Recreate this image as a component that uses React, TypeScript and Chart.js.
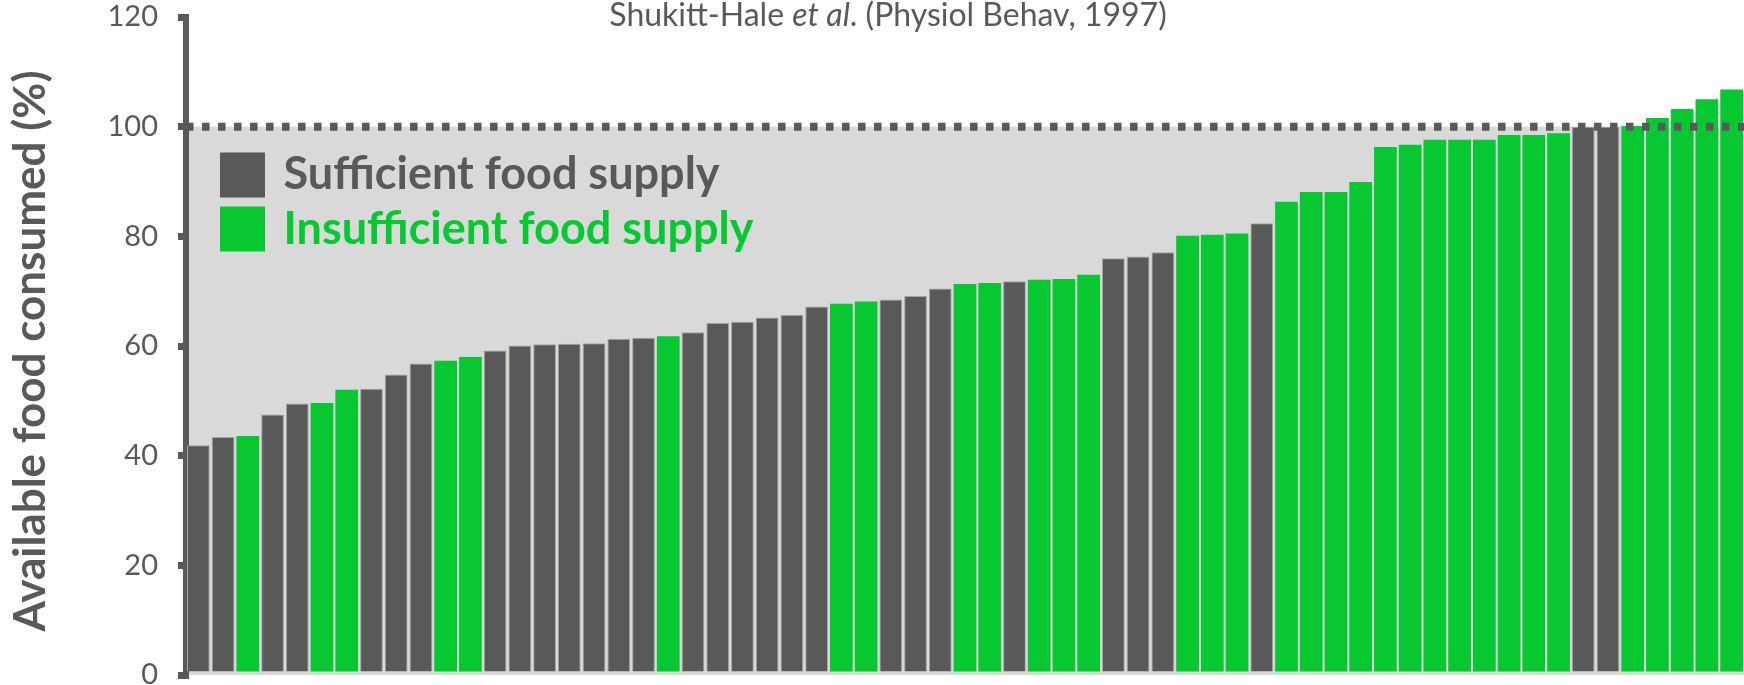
import { useEffect, useRef } from 'react';
import { Chart, registerables } from 'chart.js';

Chart.register(...registerables);

const FONT = 'Lato';
const GREY = '#595959';
const GREEN = '#08c832';
const BAND = '#d9d9d9';

const categories = [
  '1', '2', '3', '4', '5', '6', '7', '8', '9', '10',
  '11', '12', '13', '14', '15', '16', '17', '18', '19', '20',
  '21', '22', '23', '24', '25', '26', '27', '28', '29', '30',
  '31', '32', '33', '34', '35', '36', '37', '38', '39', '40',
  '41', '42', '43', '44', '45', '46', '47', '48', '49', '50',
  '51', '52', '53', '54', '55', '56', '57', '58', '59', '60',
  '61', '62', '63',
];

const values = [
  41.9, 43.4, 43.6, 47.5, 49.5, 49.6, 52.0, 52.2, 54.8, 56.8,
  57.3, 58.0, 59.2, 60.1, 60.3, 60.4, 60.5, 61.3, 61.5, 61.8,
  62.5, 64.2, 64.4, 65.2, 65.7, 67.2, 67.7, 68.1, 68.5, 69.1,
  70.5, 71.3, 71.5, 71.8, 72.1, 72.2, 73.0, 76.0, 76.3, 77.1,
  80.1, 80.3, 80.5, 82.4, 86.3, 88.1, 88.1, 89.9, 96.3, 96.7,
  97.6, 97.6, 97.6, 98.5, 98.5, 98.8, 100.0, 100.0, 100.1, 101.6,
  103.2, 105.0, 106.8,
];

// S = sufficient food supply, I = insufficient food supply
const groups = [
  'S', 'S', 'I', 'S', 'S', 'I', 'I', 'S', 'S', 'S',
  'I', 'I', 'S', 'S', 'S', 'S', 'S', 'S', 'S', 'I',
  'S', 'S', 'S', 'S', 'S', 'S', 'I', 'I', 'S', 'S',
  'S', 'I', 'I', 'S', 'I', 'I', 'I', 'S', 'S', 'S',
  'I', 'I', 'I', 'S', 'I', 'I', 'I', 'I', 'I', 'I',
  'I', 'I', 'I', 'I', 'I', 'I', 'S', 'S', 'I', 'I',
  'I', 'I', 'I',
];

const seriesLabels = ['Sufficient food supply', 'Insufficient food supply'];
const yTicks = [0, 20, 40, 60, 80, 100, 120];
const referenceValue = 100;
const titleParts = [
  { text: 'Shukitt-Hale ', italic: false },
  { text: 'et al', italic: true },
  { text: '. (Physiol Behav, 1997)', italic: false },
];
const yTitle = 'Available food consumed (%)';

const sufficient = values.map((v, i) => (groups[i] === 'S' ? v : null));
const insufficient = values.map((v, i) => (groups[i] === 'I' ? v : null));

const decorPlugin = {
  id: 'decor',
  beforeDraw(chart: any) {
    const { ctx, chartArea, scales } = chart;
    const y = scales.y;
    const top = y.getPixelForValue(referenceValue);
    const bottom = y.getPixelForValue(0);
    ctx.save();
    ctx.fillStyle = BAND;
    ctx.fillRect(chartArea.left, top, chartArea.right - chartArea.left, bottom - top);
    ctx.restore();
  },
  afterDatasetsDraw(chart: any) {
    const { ctx, chartArea, scales } = chart;
    const yy = scales.y.getPixelForValue(referenceValue);
    ctx.save();
    ctx.strokeStyle = GREY;
    ctx.lineWidth = 8;
    ctx.setLineDash([7.5, 8.5]);
    ctx.beginPath();
    ctx.moveTo(chartArea.left, yy);
    ctx.lineTo(chartArea.right, yy);
    ctx.stroke();
    ctx.restore();
  },
  afterDraw(chart: any) {
    const { ctx } = chart;
    ctx.save();
    // Title
    ctx.fillStyle = GREY;
    ctx.textBaseline = 'alphabetic';
    ctx.textAlign = 'left';
    const fontFor = (it: boolean) => `${it ? 'italic ' : ''}400 32px ${FONT}`;
    let total = 0;
    for (const p of titleParts) {
      ctx.font = fontFor(p.italic);
      total += ctx.measureText(p.text).width;
    }
    let x = 888 - total / 2;
    for (const p of titleParts) {
      ctx.font = fontFor(p.italic);
      ctx.fillText(p.text, x, 26);
      x += ctx.measureText(p.text).width;
    }
    // Legend
    const ds = chart.data.datasets;
    const rows = [
      { sq: 152.5, base: 188.5 },
      { sq: 206.5, base: 243.5 },
    ];
    ctx.font = `700 45px ${FONT}`;
    ds.forEach((d: any, i: number) => {
      ctx.fillStyle = d.backgroundColor;
      ctx.fillRect(220, rows[i].sq, 45, 45);
      ctx.fillText(d.label, 283.5, rows[i].base);
    });
    // Y axis title
    ctx.translate(45, 351);
    ctx.rotate(-Math.PI / 2);
    ctx.textAlign = 'center';
    ctx.fillStyle = GREY;
    ctx.font = `700 44px ${FONT}`;
    ctx.fillText(yTitle, 0, 0);
    ctx.restore();
  },
};

export default function App() {
  const ref = useRef<HTMLCanvasElement>(null);
  useEffect(() => {
    if (!ref.current) return;
    const chart = new Chart(ref.current, {
      type: 'bar',
      data: {
        labels: categories,
        datasets: [
          {
            label: seriesLabels[0],
            data: sufficient,
            backgroundColor: GREY,
            borderColor: '#a3a3a3',
            borderWidth: 1,
            barPercentage: 0.92,
            categoryPercentage: 1,
          },
          {
            label: seriesLabels[1],
            data: insufficient,
            backgroundColor: GREEN,
            borderColor: GREEN,
            borderWidth: 0,
            barPercentage: 0.92,
            categoryPercentage: 1,
          },
        ],
      },
      options: {
        animation: false,
        responsive: false,
        maintainAspectRatio: false,
        devicePixelRatio: 1,
        layout: { padding: { top: 17, bottom: 10, left: 0, right: 0 } },
        plugins: {
          legend: { display: false },
          tooltip: { enabled: false },
          title: { display: false },
        },
        scales: {
          x: { display: false, stacked: true },
          y: {
            stacked: true,
            min: 0,
            max: 120,
            afterBuildTicks(scale: any) {
              scale.ticks = yTicks.map((v) => ({ value: v }));
            },
            afterFit(scale: any) {
              scale.width = 186;
              scale.paddingTop = 0;
              scale.paddingBottom = 0;
            },
            ticks: {
              color: GREY,
              font: { family: FONT, size: 29 },
              padding: 20,
            },
            grid: {
              drawOnChartArea: false,
              color: GREY,
              tickLength: 8,
              tickWidth: 7,
              lineWidth: 7,
            },
            border: { display: true, color: GREY, width: 6 },
          },
        },
      },
      plugins: [decorPlugin],
    } as any);
    return () => chart.destroy();
  }, []);
  return (
    <div style={{ position: 'fixed', left: 0, top: 0, width: 1744, height: 685, background: '#fff' }}>
      <canvas ref={ref} width={1744} height={685} style={{ display: 'block' }} />
    </div>
  );
}
